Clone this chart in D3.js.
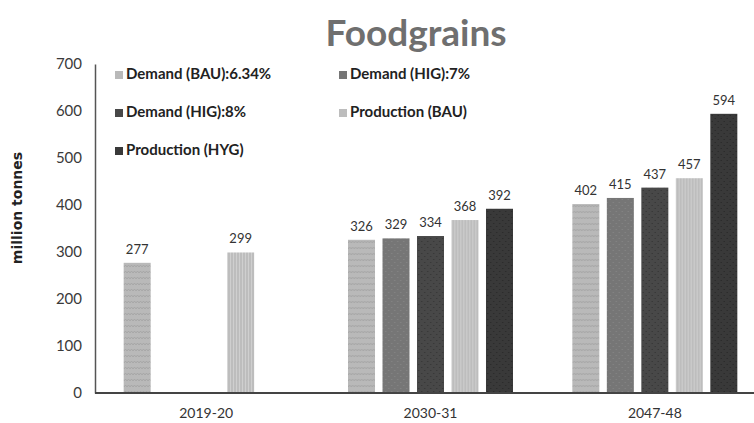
<!DOCTYPE html>
<html>
<head>
<meta charset="utf-8">
<script src="https://cdn.jsdelivr.net/npm/d3@7"></script>
<style>
  body { margin: 0; background: #fff; }
  svg { display: block; }
</style>
</head>
<body>
<svg id="chart" width="754" height="423"></svg>
<script>
// data
const categories = ['2019-20', '2030-31', '2047-48'];
const seriesNames = ['Demand (BAU):6.34%', 'Demand (HIG):7%', 'Demand (HIG):8%', 'Production (BAU)', 'Production (HYG)'];
const demandBAU = [277, 326, 402];
const demandHIG7 = [null, 329, 415];
const demandHIG8 = [null, 334, 437];
const productionBAU = [299, 368, 457];
const productionHYG = [null, 392, 594];
const yTicks = [0, 100, 200, 300, 400, 500, 600, 700];

const seriesValues = [demandBAU, demandHIG7, demandHIG8, productionBAU, productionHYG];
const colors = ['#b9b9b9', '#767676', '#484848', '#bdbdbd', '#393939'];
const dotColors = ['#a2a2a2', '#8a8a8a', '#2e2e2e', '#cfcfcf', '#222'];

const svg = d3.select('#chart');

// texture patterns (the bars in the picture are stippled)
const defs = svg.append('defs');
colors.forEach((c, i) => {
  const p = defs.append('pattern')
    .attr('id', 'pat' + i)
    .attr('patternUnits', 'userSpaceOnUse')
    .attr('width', 6)
    .attr('height', 6);
  p.append('rect').attr('width', 6).attr('height', 6).attr('fill', c);
  if (i === 3) {
    p.append('rect').attr('x', 1).attr('width', 1).attr('height', 6).attr('fill', dotColors[i]);
    p.append('rect').attr('x', 4).attr('width', 1).attr('height', 6).attr('fill', dotColors[i]);
  } else if (i === 0) {
    p.append('path').attr('d', 'M0,3 L1.5,1 L3,3 L4.5,1 L6,3').attr('stroke', dotColors[i]).attr('fill', 'none').attr('stroke-width', 0.8);
  } else {
    p.append('circle').attr('cx', 1.5).attr('cy', 1.5).attr('r', 0.6).attr('fill', dotColors[i]);
    p.append('circle').attr('cx', 4.5).attr('cy', 4.5).attr('r', 0.6).attr('fill', dotColors[i]);
  }
});

const x0 = d3.scaleBand()
  .domain(categories)
  .range([94, 767]);

const x1 = d3.scaleBand()
  .domain(seriesNames)
  .range([0, x0.bandwidth()])
  .paddingInner(0.217)
  .paddingOuter(0.86);

const y = d3.scaleLinear()
  .domain([0, 700])
  .range([393, 64]);

// title
svg.append('text')
  .attr('x', 416)
  .attr('y', 46)
  .attr('text-anchor', 'middle')
  .attr('font-family', 'Lato, sans-serif')
  .attr('font-weight', 'bold')
  .attr('font-size', 37)
  .attr('fill', '#6f6f6f')
  .text('Foodgrains');

// y axis
const yAxis = svg.append('g')
  .attr('transform', 'translate(95,0)')
  .call(d3.axisLeft(y).tickValues(yTicks).tickSize(0).tickPadding(13));
yAxis.select('.domain').attr('stroke', '#555').attr('stroke-width', 1.5);
yAxis.selectAll('text')
  .attr('font-family', 'Lato, sans-serif')
  .attr('font-size', 15)
  .attr('fill', '#3a3a3a');

svg.append('text')
  .attr('transform', 'translate(22,208) rotate(-90)')
  .attr('text-anchor', 'middle')
  .attr('font-family', 'DejaVu Sans, sans-serif')
  .attr('font-weight', 'bold')
  .attr('font-size', 14)
  .attr('fill', '#222')
  .text('million tonnes');

// bars
const groups = svg.append('g')
  .selectAll('g')
  .data(categories)
  .join('g')
  .attr('transform', d => `translate(${x0(d)},0)`);

groups.selectAll('rect')
  .data((d, ci) => seriesNames.map((s, si) => ({ s, si, v: seriesValues[si][ci] })).filter(e => e.v !== null))
  .join('rect')
  .attr('x', d => x1(d.s))
  .attr('y', d => y(d.v))
  .attr('width', x1.bandwidth())
  .attr('height', d => y(0) - y(d.v))
  .attr('fill', d => `url(#pat${d.si})`);

groups.selectAll('text')
  .data((d, ci) => seriesNames.map((s, si) => ({ s, si, v: seriesValues[si][ci] })).filter(e => e.v !== null))
  .join('text')
  .attr('x', d => x1(d.s) + x1.bandwidth() / 2)
  .attr('y', d => y(d.v) - 9)
  .attr('text-anchor', 'middle')
  .attr('font-family', 'Lato, sans-serif')
  .attr('font-size', 13)
  .attr('fill', '#333')
  .text(d => d.v);

// x axis
const xAxis = svg.append('g')
  .attr('transform', 'translate(0,393)')
  .call(d3.axisBottom(x0).tickSize(0).tickPadding(15));
xAxis.select('.domain').remove();
xAxis.selectAll('text')
  .attr('font-family', 'Lato, sans-serif')
  .attr('font-size', 14)
  .attr('fill', '#333');
svg.append('line')
  .attr('x1', 95).attr('x2', 754)
  .attr('y1', y(0)).attr('y2', y(0))
  .attr('stroke', '#444')
  .attr('stroke-width', 2);

// legend
const legendPos = [[115, 79], [339, 79], [115, 117], [339, 117], [115, 155]];
const legend = svg.append('g')
  .selectAll('g')
  .data(seriesNames)
  .join('g')
  .attr('transform', (d, i) => `translate(${legendPos[i][0]},${legendPos[i][1]})`);
legend.append('rect')
  .attr('x', 0).attr('y', -8)
  .attr('width', 8).attr('height', 8)
  .attr('fill', (d, i) => colors[i]);
legend.append('text')
  .attr('x', 11)
  .attr('y', 0)
  .attr('font-family', 'Lato, sans-serif')
  .attr('font-weight', 'bold')
  .attr('font-size', 15)
  .attr('fill', '#222')
  .text(d => d);
</script>
</body>
</html>
